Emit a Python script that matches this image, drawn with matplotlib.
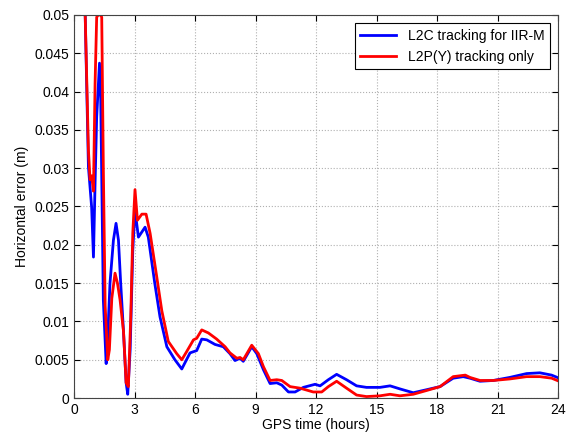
import matplotlib
matplotlib.use("Agg")
import matplotlib.pyplot as plt

plt.rcParams['font.family'] = ['Liberation Sans', 'DejaVu Sans']

# L2C tracking for IIR-M (blue)
t_l2c = [0.55, 0.71, 0.87, 0.96, 1.04, 1.12, 1.26, 1.32, 1.45, 1.59, 1.65, 1.78, 1.95,
         2.08, 2.2, 2.31, 2.45, 2.58, 2.66, 2.78, 2.91, 3.02, 3.19, 3.52, 3.68, 4.0,
         4.26, 4.6, 5.0, 5.34, 5.75, 6.08, 6.33, 6.58, 6.99, 7.4, 7.73, 7.98, 8.23,
         8.39, 8.81, 9.06, 9.39, 9.72, 10.05, 10.3, 10.63, 10.96, 11.37, 11.95, 12.2,
         12.61, 13.02, 13.51, 14.01, 14.5, 15.17, 15.67, 16.16, 16.82, 17.49, 18.15,
         18.8, 19.3, 19.63, 20.13, 20.79, 21.61, 22.44, 23.1, 23.68, 23.96]
e_l2c = [0.05, 0.0302, 0.0249, 0.0184, 0.028, 0.0367, 0.0437, 0.039, 0.0128, 0.0045,
         0.0069, 0.015, 0.0206, 0.0228, 0.0206, 0.015, 0.0087, 0.002, 0.0005, 0.0063,
         0.0193, 0.0245, 0.021, 0.0223, 0.021, 0.015, 0.0106, 0.0067, 0.005, 0.0038,
         0.0059, 0.0062, 0.0077, 0.0076, 0.007, 0.0067, 0.0058, 0.0049, 0.0052, 0.0048,
         0.0067, 0.0058, 0.0037, 0.0019, 0.002, 0.0017, 0.0008, 0.0008, 0.0014, 0.0018,
         0.0016, 0.0024, 0.0031, 0.0024, 0.0016, 0.0014, 0.0014, 0.0016, 0.0012, 0.0007,
         0.0011, 0.0015, 0.0026, 0.0028, 0.0026, 0.0022, 0.0023, 0.0027, 0.0032, 0.0033,
         0.003, 0.0027]

# L2P(Y) tracking only (red)
t_l2p = [0.55, 0.71, 0.79, 0.87, 0.96, 1.04, 1.12, 1.2, 1.3, 1.37, 1.45, 1.54, 1.67,
         1.75, 1.87, 2.03, 2.15, 2.28, 2.45, 2.58, 2.69, 2.81, 2.91, 3.02, 3.14, 3.36,
         3.57, 3.77, 4.1, 4.35, 4.67, 5.09, 5.34, 5.59, 5.92, 6.08, 6.33, 6.66, 7.07,
         7.49, 7.73, 8.07, 8.23, 8.39, 8.81, 9.14, 9.39, 9.72, 10.05, 10.3, 10.71, 11.2,
         11.86, 12.28, 12.61, 13.02, 13.51, 14.01, 14.5, 15.17, 15.67, 16.16, 16.82,
         17.49, 18.15, 18.8, 19.4, 19.63, 20.13, 20.79, 21.61, 22.44, 23.1, 23.68, 23.96]
e_l2p = [0.05, 0.0324, 0.0285, 0.029, 0.027, 0.041, 0.0497, 0.05, 0.05, 0.0497, 0.030,
         0.0121, 0.005, 0.0063, 0.013, 0.0163, 0.015, 0.0128, 0.0087, 0.002, 0.0015,
         0.0106, 0.0215, 0.0272, 0.0232, 0.024, 0.024, 0.0215, 0.0158, 0.0114, 0.0074,
         0.0058, 0.005, 0.0061, 0.0076, 0.0078, 0.0089, 0.0085, 0.0077, 0.0067, 0.0059,
         0.0052, 0.0053, 0.005, 0.0069, 0.0058, 0.0041, 0.0023, 0.0024, 0.0023, 0.0015,
         0.0013, 0.0008, 0.0008, 0.0015, 0.0022, 0.0013, 0.0004, 0.0002, 0.0003, 0.0005,
         0.0003, 0.0005, 0.001, 0.0015, 0.0028, 0.003, 0.0027, 0.0023, 0.0023, 0.0025,
         0.0028, 0.0028, 0.0026, 0.0023]

x_ticks = list(range(0, 25, 3))
y_ticks = [0, 0.005, 0.01, 0.015, 0.02, 0.025, 0.03, 0.035, 0.04, 0.045, 0.05]
y_labels = ['0', '0.005', '0.01', '0.015', '0.02', '0.025', '0.03', '0.035', '0.04', '0.045', '0.05']

fig = plt.figure(figsize=(5.7, 4.37), dpi=100)
ax = fig.add_axes([0.130, 0.089, 0.849, 0.877])

ax.plot(t_l2c, e_l2c, color='#0000ff', lw=2, label='L2C tracking for IIR-M')
ax.plot(t_l2p, e_l2p, color='#ff0000', lw=2, label='L2P(Y) tracking only')

ax.set_xlim(0, 24)
ax.set_ylim(0, 0.05)
ax.set_xticks(x_ticks)
ax.set_yticks(y_ticks)
ax.set_yticklabels(y_labels)
ax.tick_params(direction='in', labelsize=10, top=True, right=True, length=4)
ax.grid(True, linestyle=':', color='#b0b0b0', lw=0.8)
for s in ax.spines.values():
    s.set_color('#444444')

ax.set_xlabel('GPS time (hours)', fontsize=10, labelpad=1)
ax.set_ylabel('Horizontal error (m)', fontsize=10, labelpad=4)

leg = ax.legend(loc='upper right', fontsize=10, fancybox=False, framealpha=1,
                edgecolor='black', handlelength=2.6, borderaxespad=0.6)
leg.get_frame().set_linewidth(0.8)

fig.savefig('out.png', dpi=100)
